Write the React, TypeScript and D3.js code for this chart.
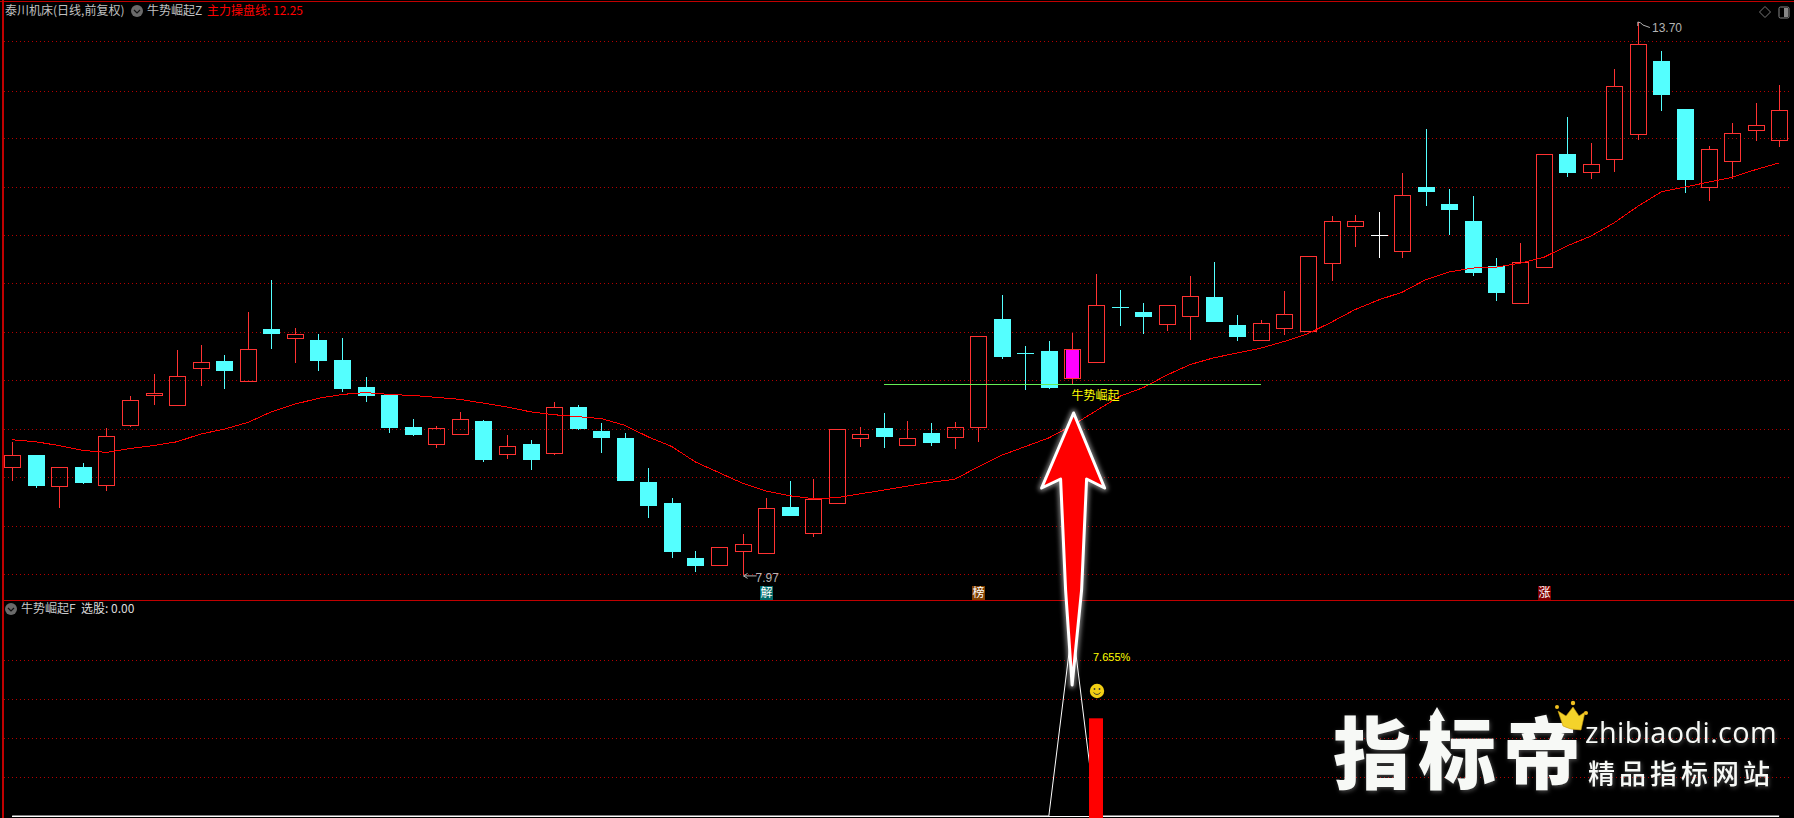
import React from "react";
import * as d3 from "d3";

const W = 1794;
const H = 818;

// Daily prices
const opens = [9.09,9.21,8.89,9.09,8.90,9.52,9.83,9.73,10.11,10.19,9.98,10.52,10.42,10.40,10.20,9.92,9.83,9.50,9.33,9.43,9.57,9.22,9.33,9.23,9.71,9.46,9.39,8.93,8.71,8.14,8.07,8.22,8.20,8.67,8.40,8.71,9.39,9.49,9.32,9.44,9.40,9.50,10.62,10.27,10.29,10.01,10.18,10.75,10.69,10.57,10.65,10.85,10.56,10.40,10.53,10.50,11.20,11.59,11.49,11.33,11.99,11.81,11.64,11.17,10.79,11.16,12.33,12.15,12.28,12.54,13.30,12.80,11.99,12.26,12.58,12.48];
const highs = [9.35,9.21,9.09,9.13,9.49,9.82,10.05,10.30,10.35,10.25,10.69,11.03,10.53,10.47,10.43,10.02,9.84,9.59,9.51,9.66,9.58,9.42,9.37,9.76,9.73,9.54,9.44,9.08,8.77,8.22,8.26,8.39,8.77,8.94,8.96,9.48,9.50,9.65,9.57,9.54,9.55,10.45,10.87,10.34,10.39,10.48,11.09,10.92,10.79,10.77,11.07,11.21,10.66,10.61,10.91,11.27,11.69,11.70,11.73,12.14,12.59,11.97,11.90,11.25,11.41,12.33,12.72,12.45,13.21,13.70,13.40,12.80,12.42,12.65,12.86,13.05];
const lows = [8.94,8.87,8.66,8.91,8.84,9.50,9.73,9.73,9.93,9.90,9.98,10.31,10.17,10.08,9.87,9.76,9.44,9.41,9.28,9.43,9.14,9.17,9.06,9.21,9.47,9.23,8.94,8.56,8.15,8.00,8.07,7.97,8.20,8.58,8.36,8.71,9.30,9.28,9.32,9.31,9.27,9.35,10.21,9.89,9.90,9.95,10.18,10.55,10.47,10.50,10.40,10.60,10.39,10.40,10.46,10.50,11.02,11.37,11.25,11.25,11.79,11.49,11.07,10.81,10.79,11.16,12.09,12.07,12.15,12.48,12.78,11.93,11.85,12.07,12.47,12.40];
const closes = [9.21,8.90,9.09,8.93,9.41,9.78,9.86,10.03,10.18,10.09,10.31,10.48,10.47,10.20,9.91,9.83,9.50,9.43,9.49,9.59,9.17,9.31,9.17,9.71,9.49,9.40,8.95,8.69,8.22,8.07,8.26,8.29,8.66,8.59,8.76,9.48,9.43,9.41,9.39,9.35,9.50,10.45,10.24,10.26,9.92,10.31,10.77,10.74,10.65,10.77,10.86,10.60,10.45,10.58,10.67,11.27,11.64,11.64,11.49,11.91,11.95,11.76,11.11,10.90,11.21,12.33,12.15,12.23,13.04,13.47,12.95,12.07,12.38,12.55,12.63,12.79];
const mainLine = [9.37,9.35,9.31,9.26,9.24,9.28,9.31,9.35,9.43,9.48,9.55,9.66,9.74,9.80,9.84,9.86,9.84,9.83,9.81,9.79,9.75,9.71,9.66,9.63,9.61,9.59,9.52,9.40,9.30,9.14,9.03,8.92,8.84,8.79,8.76,8.77,8.81,8.85,8.89,8.93,8.96,9.09,9.21,9.30,9.39,9.52,9.67,9.82,9.91,10.04,10.15,10.22,10.27,10.32,10.39,10.47,10.59,10.72,10.82,10.90,11.03,11.11,11.15,11.16,11.20,11.26,11.38,11.48,11.62,11.79,11.94,11.99,12.04,12.09,12.17,12.24];
const gridPrices = [13.5,12.99,12.5,11.99,11.49,10.99,10.49,9.99,9.48,8.98,8.48,7.98];

const signalIndex = 45;
const supportLevel = 9.95;
const supportFrom = 37;
const supportTo = 53;

const lowerGrid = [1, 2, 3, 4];
const curveX = [0, 44, 45, 46, 75];
const curveV = [0, 0, 4.88, 0, 0];
const barIndex = 46;
const barValue = 2.5;

const badges = [
  { i: 32, t: "解", bg: "#006a6a" },
  { i: 41, t: "榜", bg: "#804000" },
  { i: 65, t: "涨", bg: "#800000" },
];

const x = d3.scaleLinear().domain([0, 75]).range([12.2, 1779.2]);
const y = d3.scaleLinear().domain([7.97, 13.7]).range([574.9, 22]);
const yLow = d3.scaleLinear().domain([0, 4]).range([816, 659.7]);

const RED = "#ff3232";
const CYAN = "#54ffff";
const FRAME = "#c00000";
const CJK = "'Noto Sans CJK SC','Liberation Sans',sans-serif";
const crisp = (v: number) => Math.round(v) + 0.5;

const maPath = d3.line<number>().x((_, i) => x(i)).y((d) => y(d))(mainLine) ?? "";
const lowPath =
  d3.line<number>().x((_, i) => x(curveX[i])).y((d) => yLow(d))(curveV) ?? "";

function Candle({ i }: { i: number }) {
  const o = opens[i], c = closes[i], h = highs[i], l = lows[i];
  const cx = Math.round(x(i));
  const px = cx + 0.5;
  const topP = Math.max(o, c), botP = Math.min(o, c);
  const top = Math.round(y(topP)), bot = Math.round(y(botP));
  const hi = Math.round(y(h)), lo = Math.round(y(l));
  const left = cx - 8;
  const isFlat = Math.abs(o - c) < 0.015;
  const isUp = c > o;
  const color = o === c ? "#ffffff" : isUp ? RED : CYAN;
  const wick = (
    <>
      {hi < top && <line x1={px} x2={px} y1={hi} y2={top} stroke={color} />}
      {lo > bot && <line x1={px} x2={px} y1={bot} y2={lo} stroke={color} />}
    </>
  );
  if (isFlat) {
    return (
      <g>
        {wick}
        <line x1={left} x2={left + 17} y1={top + 0.5} y2={top + 0.5} stroke={color} />
      </g>
    );
  }
  if (isUp) {
    return (
      <g>
        {wick}
        {i === signalIndex && (
          <rect x={left + 2} y={top} width={13} height={bot - top} fill="#ff00ff" />
        )}
        <rect x={left + 0.5} y={top + 0.5} width={16} height={bot - top} fill="none" stroke={color} />
      </g>
    );
  }
  return (
    <g>
      {wick}
      <rect x={left} y={top} width={17} height={bot - top + 1} fill={color} />
    </g>
  );
}

function ChevronIcon({ cx, cy }: { cx: number; cy: number }) {
  return (
    <g>
      <circle cx={cx} cy={cy} r={6} fill="#6a6a6a" />
      <path d={`M${cx - 3},${cy - 1} L${cx},${cy + 2} L${cx + 3},${cy - 1}`} fill="none" stroke="#111" strokeWidth={1.2} />
    </g>
  );
}

function Arrow() {
  const cx = x(signalIndex) + 1.2;
  const d = [
    `M${cx},413`,
    `L${cx + 31},488`,
    `L${cx + 13},479`,
    `L${cx + 8},590`,
    `L${cx - 1.5},685`,
    `L${cx - 8},590`,
    `L${cx - 13},479`,
    `L${cx - 32},488`,
    "Z",
  ].join(" ");
  return (
    <g>
      <path d={d} fill="none" stroke="#fff" strokeOpacity={0.45} strokeWidth={7} strokeLinejoin="round" filter="url(#soft)" />
      <path d={d} fill="#ff0000" stroke="#fff" strokeWidth={3} strokeLinejoin="round" />
    </g>
  );
}

export default function App() {
  const indices = d3.range(opens.length);
  const lowExt = Math.round(x(barIndex));
  return (
    <svg width={W} height={H} viewBox={`0 0 ${W} ${H}`} style={{ position: "fixed", left: 0, top: 0, display: "block", background: "#000" }}>
      <defs>
        <filter id="soft" x="-30%" y="-30%" width="160%" height="160%">
          <feGaussianBlur stdDeviation="2" />
        </filter>
        <filter id="wmGlow" x="-10%" y="-20%" width="120%" height="140%">
          <feDropShadow dx="1" dy="1.5" stdDeviation="2" floodColor="#ffffff" floodOpacity="0.28" />
        </filter>
      </defs>
      <rect width={W} height={H} fill="#000" />

      {/* frame */}
      <g shapeRendering="crispEdges">
        <line x1={0} x2={W} y1={1.5} y2={1.5} stroke={FRAME} />
        <line x1={2.5} x2={2.5} y1={0} y2={H} stroke={FRAME} strokeWidth={2} />
        <line x1={3} x2={W} y1={600.5} y2={600.5} stroke={FRAME} />
        {gridPrices.map((p) => (
          <line key={p} x1={4} x2={1790} y1={crisp(y(p))} y2={crisp(y(p))} stroke="#b40000" strokeDasharray="1 3" />
        ))}
        {lowerGrid.map((v) => (
          <line key={v} x1={4} x2={1790} y1={crisp(yLow(v))} y2={crisp(yLow(v))} stroke="#b40000" strokeDasharray="1 3" />
        ))}
      </g>

      {/* candles */}
      <g shapeRendering="crispEdges">
        {indices.map((i) => (
          <Candle key={i} i={i} />
        ))}
      </g>

      <path d={maPath} fill="none" stroke="#ff0000" strokeWidth={1} shapeRendering="crispEdges" />
      <line
        x1={x(supportFrom)}
        x2={x(supportTo)}
        y1={crisp(y(supportLevel))}
        y2={crisp(y(supportLevel))}
        stroke="#66ee55"
        shapeRendering="crispEdges"
      />

      {/* price labels */}
      <g fill="#b4b4b4" fontFamily="'Liberation Sans',sans-serif" fontSize={12}>
        <path d={`M${x(31) + 1},${y(7.97) + 1} h13 m-13,0 l4,-2.5 m-4,2.5 l4,2.5`} stroke="#b4b4b4" fill="none" />
        <text x={x(31) + 13} y={582}>7.97</text>
        <path d={`M${x(69)},22 q3,0 5,3 l7,2.5 M${x(69)},22 v4`} stroke="#b4b4b4" fill="none" />
        <text x={1652} y={32}>13.70</text>
      </g>
      <text x={x(signalIndex) - 1} y={400} fill="#ffff00" fontSize={12} fontFamily={CJK}>牛势崛起</text>

      {/* badges */}
      {badges.map((b) => (
        <g key={b.t}>
          <rect x={Math.round(x(b.i)) - 6} y={586} width={13} height={14} fill={b.bg} />
          <text x={Math.round(x(b.i)) + 0.5} y={597} textAnchor="middle" fill="#ffffff" fontSize={12} fontFamily={CJK}>{b.t}</text>
        </g>
      ))}

      {/* header */}
      <text x={5} y={15} fill="#c0c0c0" fontSize={12} fontFamily={CJK}>泰川机床(日线,前复权)</text>
      <ChevronIcon cx={137} cy={11} />
      <text x={147} y={15} fill="#c0c0c0" fontSize={12} fontFamily={CJK}>牛势崛起Z</text>
      <text x={207} y={15} fill="#ff0000" fontSize={12} fontFamily={CJK}>主力操盘线: 12.25</text>
      <path d="M1765,6.5 L1770.5,12 L1765,17.5 L1759.5,12 Z" fill="none" stroke="#777" />
      <rect x={1779} y={7} width={10} height={11} rx={1.5} fill="none" stroke="#888" />
      <rect x={1784} y={8} width={4} height={9} fill="#888" />

      {/* lower pane */}
      <ChevronIcon cx={11} cy={609} />
      <text x={21} y={613} fill="#c8c8c8" fontSize={12} fontFamily={CJK}>牛势崛起F</text>
      <text x={81} y={613} fill="#dcdcdc" fontSize={12} fontFamily={CJK}>选股: 0.00</text>

      <path d={lowPath} fill="none" stroke="#ffffff" strokeWidth={1} />
      <line x1={12} x2={1779} y1={816.5} y2={816.5} stroke="#ffffff" strokeWidth={1.4} shapeRendering="crispEdges" />
      <rect x={lowExt - 7} y={yLow(barValue)} width={14} height={H - yLow(barValue)} fill="#ff0000" />
      <text x={1093} y={661} fill="#ffff00" fontSize={11} fontFamily="'Liberation Sans',sans-serif">7.655%</text>

      {/* smiley */}
      <g>
        <circle cx={lowExt + 1} cy={691} r={7.2} fill="#f2cf14" />
        <circle cx={lowExt - 1.5} cy={689} r={0.9} fill="#333" />
        <circle cx={lowExt + 3.5} cy={689} r={0.9} fill="#333" />
        <path d={`M${lowExt - 2.5},692.5 q3.5,4 7,0`} fill="none" stroke="#333" strokeWidth={0.9} />
      </g>

      <Arrow />

      {/* watermark */}
      <g filter="url(#wmGlow)" fill="#f7f9f6" fontFamily={CJK} fontWeight={900}>
        <text x={1333} y={783} fontSize={78}>指</text>
        <text x={1418} y={783} fontSize={78}>标</text>
        <text x={1503} y={783} fontSize={78}>帝</text>
        <path d="M1437,707 L1445,721 L1440,721 L1440,733 L1434,733 L1434,721 L1429,721 Z" />
        <text x={1585} y={743} fontSize={28.8} fontWeight={400} fontFamily="'Open Sans',sans-serif" style={{ letterSpacing: "0.4px" }}>zhibiaodi.com</text>
        <text x={1588} y={784} fontSize={27} fontWeight={500} style={{ letterSpacing: "4px" }}>精品指标网站</text>
      </g>
      <g>
        <path d="M1558,711 L1566,716 L1573,707 L1579,716 L1585,712 L1581,730 Q1570,730 1563,726 Z" fill="#f4d32a" stroke="#c99a10" strokeWidth={0.6} />
        <circle cx={1557} cy={707} r={2} fill="#f0c020" />
        <circle cx={1573} cy={703} r={2.2} fill="#f0c020" />
        <circle cx={1586} cy={713} r={2} fill="#f0c020" />
      </g>
    </svg>
  );
}
